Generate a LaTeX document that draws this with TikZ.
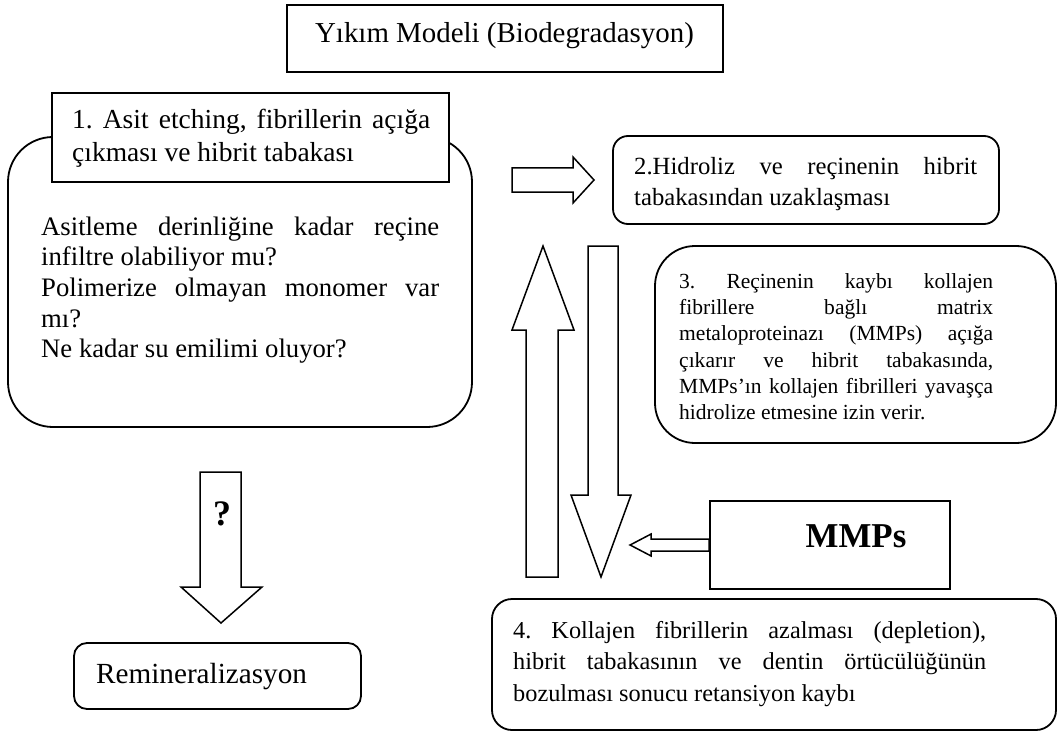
\documentclass[tikz,border=0pt]{standalone}
\usepackage{fontspec}
\setmainfont{Liberation Serif}
\usepackage{tikz}
\frenchspacing

\begin{document}
\begin{tikzpicture}[x=1bp,y=-1bp,
  box/.style={draw,line width=1.8bp,fill=white,inner sep=0},
  txt/.style={anchor=base west,inner sep=0,align=justify},
  hollow/.style={draw,line width=1.5bp,fill=white,line join=miter}]
\useasboundingbox (0,0) rectangle (1058,733);

% Title
\node[box,minimum width=436bp,minimum height=67bp] (title) at (505,38.5) {};
\node[anchor=base,inner sep=0,font=\fontsize{29}{34}\selectfont] (titletxt) at (504.5,43) {Yıkım Modeli (Biodegradasyon)};

% Step 1
\node[box,rounded corners=45bp,minimum width=464bp,minimum height=290bp] (etch) at (240,282) {};
\node[box,minimum width=397bp,minimum height=89bp] (etchhead) at (250.5,137.5) {};
\node[txt,text width=358bp,font=\fontsize{27.6}{33.5}\selectfont] (etchheadtxt) at (72,128.3) {%
  1. Asit etching, fibrillerin açığa\linebreak çıkması ve hibrit tabakası};
\node[txt,text width=398bp,font=\fontsize{26.8}{30.8}\selectfont] (etchtxt) at (41,235) {%
  Asitleme derinliğine kadar reçine\linebreak infiltre olabiliyor mu?\\
  Polimerize olmayan monomer var\linebreak mı?\\
  Ne kadar su emilimi oluyor?};

% Step 2
\node[box,rounded corners=15bp,minimum width=386bp,minimum height=88bp] (hydro) at (806,180) {};
\node[txt,text width=343bp,font=\fontsize{24.8}{31}\selectfont] (hydrotxt) at (634,175) {%
  2.Hidroliz ve reçinenin hibrit\linebreak tabakasından uzaklaşması};

% Step 3
\node[box,rounded corners=40bp,minimum width=401bp,minimum height=197bp] (mmprel) at (855.5,344.5) {};
\node[txt,text width=314bp,font=\fontsize{21.6}{26.4}\selectfont] (mmpreltxt) at (679,288.3) {%
  3. Reçinenin kaybı kollajen\linebreak fibrillere bağlı matrix\linebreak
  metaloproteinazı (MMPs) açığa\linebreak çıkarır ve hibrit tabakasında,\linebreak
  MMPs’ın kollajen fibrilleri yavaşça\linebreak hidrolize etmesine izin verir.};

% MMPs
\node[box,minimum width=240bp,minimum height=88bp] (mmps) at (830,545) {};
\node[anchor=base,inner sep=0,font=\fontsize{35}{40}\selectfont\bfseries] (mmpstxt) at (856,547) {MMPs};

% Step 4
\node[box,rounded corners=20bp,minimum width=564bp,minimum height=131bp] (loss) at (774,664.5) {};
\node[txt,text width=473bp,font=\fontsize{24.4}{32}\selectfont] (losstxt) at (513,638) {%
  4. Kollajen fibrillerin azalması (depletion),\linebreak
  hibrit tabakasının ve dentin örtücülüğünün\linebreak bozulması sonucu retansiyon kaybı};

% Remineralization
\node[box,rounded corners=13bp,minimum width=287bp,minimum height=66bp] (remin) at (217.5,676) {};
\node[anchor=base west,inner sep=0,font=\fontsize{29.3}{34}\selectfont] (remintxt) at (96,683) {Remineralizasyon};

% Hollow arrows
\draw[hollow] (512,168) -- (573,168) -- (573,157) -- (594,180) -- (573,203) -- (573,192) -- (512,192) -- cycle;
\draw[hollow] (526,577) -- (526,330) -- (512,330) -- (543,246) -- (574,330) -- (558,330) -- (558,577) -- cycle;
\draw[hollow] (588,246) -- (618,246) -- (618,495) -- (631,495) -- (601,577) -- (571,495) -- (588,495) -- cycle;
\draw[hollow] (mmps.west) ++(0,6) -- ++(-58,0) -- ++(0,5) -- ++(-21,-11) -- ++(21,-11) -- ++(0,5) -- ++(58,0) -- cycle;
\draw[hollow] (200,472) -- (241,472) -- (241,587) -- (262,587) -- (221,623) -- (181,587) -- (200,587) -- cycle;
\node[anchor=base,inner sep=0,font=\fontsize{36}{40}\selectfont\bfseries] (qtxt) at (222,525) {?};
\end{tikzpicture}
\end{document}
